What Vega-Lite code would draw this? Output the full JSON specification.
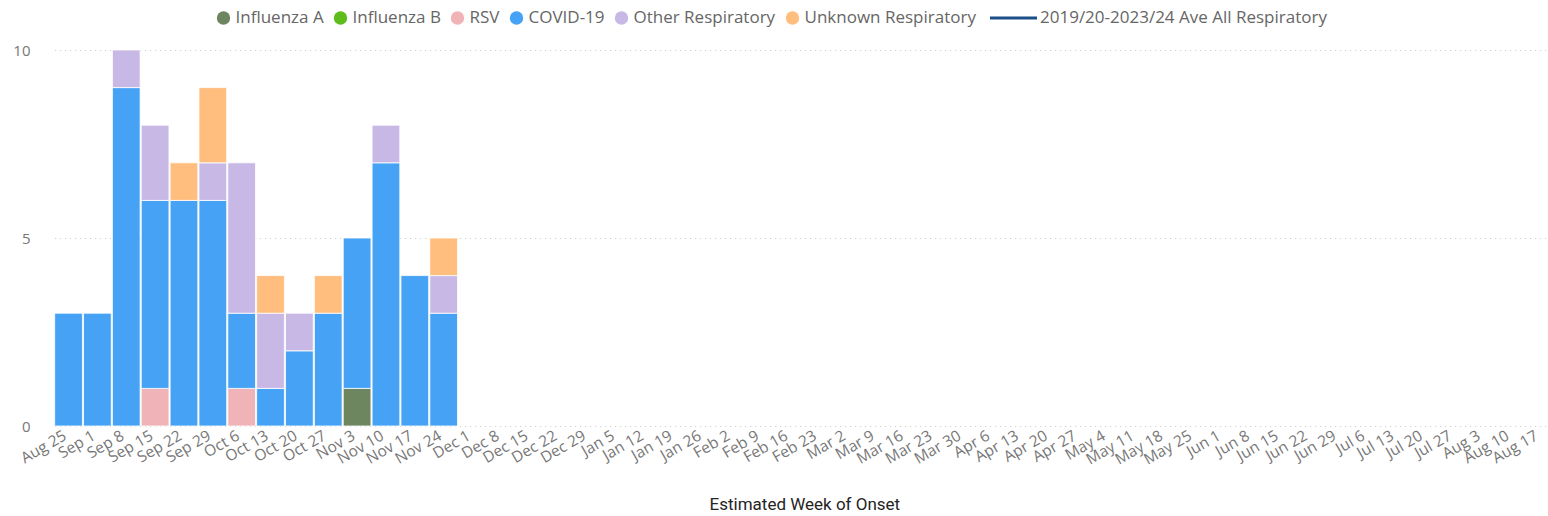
{
  "$schema": "https://vega.github.io/schema/vega-lite/v6.json",
  "autosize": "none",
  "width": 1504,
  "height": 376,
  "padding": {"left": 42, "top": 50, "right": 2, "bottom": 90},
  "background": "white",
  "data": {
    "values": [
      {"week": "Aug 25", "type": "COVID-19", "count": 3},
      {"week": "Sep 1", "type": "COVID-19", "count": 3},
      {"week": "Sep 8", "type": "COVID-19", "count": 9},
      {"week": "Sep 8", "type": "Other Respiratory", "count": 1},
      {"week": "Sep 15", "type": "RSV", "count": 1},
      {"week": "Sep 15", "type": "COVID-19", "count": 5},
      {"week": "Sep 15", "type": "Other Respiratory", "count": 2},
      {"week": "Sep 22", "type": "COVID-19", "count": 6},
      {"week": "Sep 22", "type": "Unknown Respiratory", "count": 1},
      {"week": "Sep 29", "type": "COVID-19", "count": 6},
      {"week": "Sep 29", "type": "Other Respiratory", "count": 1},
      {"week": "Sep 29", "type": "Unknown Respiratory", "count": 2},
      {"week": "Oct 6", "type": "RSV", "count": 1},
      {"week": "Oct 6", "type": "COVID-19", "count": 2},
      {"week": "Oct 6", "type": "Other Respiratory", "count": 4},
      {"week": "Oct 13", "type": "COVID-19", "count": 1},
      {"week": "Oct 13", "type": "Other Respiratory", "count": 2},
      {"week": "Oct 13", "type": "Unknown Respiratory", "count": 1},
      {"week": "Oct 20", "type": "COVID-19", "count": 2},
      {"week": "Oct 20", "type": "Other Respiratory", "count": 1},
      {"week": "Oct 27", "type": "COVID-19", "count": 3},
      {"week": "Oct 27", "type": "Unknown Respiratory", "count": 1},
      {"week": "Nov 3", "type": "Influenza A", "count": 1},
      {"week": "Nov 3", "type": "COVID-19", "count": 4},
      {"week": "Nov 10", "type": "COVID-19", "count": 7},
      {"week": "Nov 10", "type": "Other Respiratory", "count": 1},
      {"week": "Nov 17", "type": "COVID-19", "count": 4},
      {"week": "Nov 24", "type": "COVID-19", "count": 3},
      {"week": "Nov 24", "type": "Other Respiratory", "count": 1},
      {"week": "Nov 24", "type": "Unknown Respiratory", "count": 1}
    ]
  },
  "layer": [
    {
      "transform": [
        {"calculate": "indexof(['Influenza A','Influenza B','RSV','COVID-19','Other Respiratory','Unknown Respiratory'], datum.type)", "as": "stackOrder"}
      ],
      "mark": {"type": "bar", "stroke": "white", "strokeWidth": 0.8},
      "encoding": {
        "x": {
          "field": "week",
          "type": "ordinal",
          "sort": null,
          "title": "Estimated Week of Onset",
          "scale": {
            "domain": ["Aug 25","Sep 1","Sep 8","Sep 15","Sep 22","Sep 29","Oct 6","Oct 13","Oct 20","Oct 27","Nov 3","Nov 10","Nov 17","Nov 24","Dec 1","Dec 8","Dec 15","Dec 22","Dec 29","Jan 5","Jan 12","Jan 19","Jan 26","Feb 2","Feb 9","Feb 16","Feb 23","Mar 2","Mar 9","Mar 16","Mar 23","Mar 30","Apr 6","Apr 13","Apr 20","Apr 27","May 4","May 11","May 18","May 25","Jun 1","Jun 8","Jun 15","Jun 22","Jun 29","Jul 6","Jul 13","Jul 20","Jul 27","Aug 3","Aug 10","Aug 17"],
            "range": [12.7, 1512],
            "paddingInner": 0.04,
            "paddingOuter": 0
          },
          "axis": {
            "labelAngle": -30,
            "labelFont": "Open Sans",
            "labelFontSize": 15.5,
            "labelColor": "#777777",
            "labelPadding": 2,
            "labelOffset": -7,
            "ticks": false,
            "domain": false,
            "grid": false,
            "labelOverlap": false,
            "titleFont": "Roboto",
            "titleFontSize": 17,
            "titleFontWeight": "normal",
            "titleColor": "#252423",
            "titlePadding": 29
          }
        },
        "y": {
          "field": "count",
          "type": "quantitative",
          "stack": "zero",
          "scale": {"domain": [0, 10]},
          "axis": {
            "title": null,
            "values": [0, 5, 10],
            "labelFont": "Open Sans",
            "labelFontSize": 15,
            "labelColor": "#777777",
            "labelPadding": 12,
            "ticks": false,
            "domain": false,
            "grid": true,
            "gridColor": "#C8C6C4",
            "gridDash": [1, 4],
            "gridWidth": 1
          }
        },
        "order": {"field": "stackOrder", "type": "quantitative", "sort": "ascending"},
        "color": {
          "field": "type",
          "type": "nominal",
          "sort": ["Influenza A","Influenza B","RSV","COVID-19","Other Respiratory","Unknown Respiratory"],
          "scale": {
            "domain": ["Influenza A","Influenza B","RSV","COVID-19","Other Respiratory","Unknown Respiratory"],
            "range": ["#6E8660","#5EBD1A","#F0B3B8","#45A2F5","#C8B8E6","#FFBD7E"]
          },
          "legend": {
            "orient": "none",
            "legendX": 173,
            "legendY": -42,
            "direction": "horizontal",
            "columns": 6,
            "clipHeight": 20,
            "title": null,
            "symbolType": "circle",
            "symbolSize": 180,
            "symbolStrokeWidth": 0,
            "symbolOpacity": 1,
            "labelFont": "Open Sans",
            "labelFontSize": 17,
            "labelColor": "#666666",
            "labelOffset": 3.5,
            "columnPadding": 8,
            "labelLimit": 400
          }
        }
      }
    },
    {
      "transform": [{"filter": "false"}],
      "mark": {"type": "line"},
      "encoding": {
        "x": {"field": "week", "type": "ordinal", "sort": null},
        "y": {"field": "count", "type": "quantitative"},
        "stroke": {
          "datum": "2019/20-2023/24 Ave All Respiratory",
          "type": "nominal",
          "scale": {"domain": ["2019/20-2023/24 Ave All Respiratory"], "range": ["#1B4F8A"]},
          "legend": {
            "orient": "none",
            "legendX": 946.5,
            "legendY": -42,
            "clipHeight": 20,
            "title": null,
            "symbolType": "stroke",
            "symbolSize": 2209,
            "symbolStrokeWidth": 3,
            "symbolOpacity": 1,
            "labelFont": "Open Sans",
            "labelFontSize": 17,
            "labelColor": "#666666",
            "labelOffset": 1.5,
            "labelLimit": 400
          }
        }
      }
    }
  ],
  "config": {
    "view": {"stroke": null}
  }
}
